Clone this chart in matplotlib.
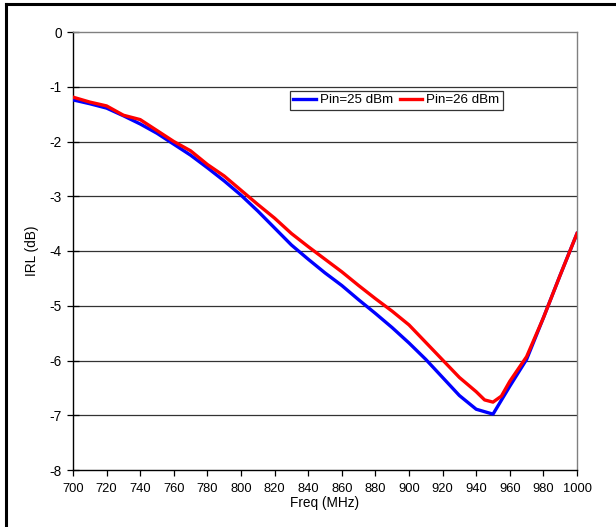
import numpy as np
import matplotlib
matplotlib.use('Agg')
import matplotlib.pyplot as plt
from matplotlib.lines import Line2D

#---------------- DADOS ----------------

freq25 = [700, 710, 720, 730, 740, 750, 760, 770, 780, 790, 800, 810, 820, 830, 840,
          850, 860, 870, 880, 890, 900, 910, 920, 930, 940, 950, 960, 970, 980, 990, 1000]
irl25 = [-1.24, -1.31, -1.39, -1.53, -1.68, -1.85, -2.05, -2.25, -2.48, -2.72, -2.98,
         -3.27, -3.58, -3.89, -4.15, -4.40, -4.63, -4.89, -5.14, -5.40, -5.68, -5.98,
         -6.31, -6.64, -6.89, -6.98, -6.47, -5.98, -5.22, -4.44, -3.68]

freq26 = [700, 710, 720, 730, 740, 750, 760, 770, 780, 790, 800, 810, 820, 830, 840,
          850, 860, 870, 880, 890, 900, 910, 920, 930, 940, 945, 950, 955, 960, 970,
          980, 990, 1000]
irl26 = [-1.19, -1.28, -1.35, -1.52, -1.60, -1.80, -2.00, -2.17, -2.42, -2.63, -2.89,
         -3.15, -3.40, -3.68, -3.92, -4.15, -4.38, -4.63, -4.87, -5.10, -5.35, -5.67,
         -5.99, -6.31, -6.57, -6.72, -6.76, -6.65, -6.38, -5.93, -5.22, -4.44, -3.68]

xticks = np.arange(700, 1001, 20)
yticks = np.arange(-8, 1, 1)

#---------------- GRAFICO ----------------

plt.rcParams['font.family'] = ['Liberation Sans', 'DejaVu Sans']

fig = plt.figure(figsize=(6.16, 5.27), dpi=100)
ax = fig.add_axes([73/616, 1 - 470/527, 504/616, 438/527])

for y in yticks[1:-1]:
    ax.axhline(y, color='#333333', lw=0.9, zorder=1)

ax.plot(freq25, irl25, color='#0000ff', lw=2.4, label='Pin=25 dBm', zorder=3)
ax.plot(freq26, irl26, color='#ff0000', lw=2.4, label='Pin=26 dBm', zorder=4)

ax.set_xlim(700, 1000)
ax.set_ylim(-8, 0)
ax.set_xticks(xticks)
ax.set_yticks(yticks)
ax.set_yticklabels([str(v) for v in yticks])
ax.tick_params(axis='x', direction='out', length=4, width=0.9, labelsize=9.3, pad=5)
ax.tick_params(axis='y', direction='inout', length=8, width=0.9, labelsize=9.8, pad=4)

for s in ['left', 'bottom']:
    ax.spines[s].set_color('black')
    ax.spines[s].set_linewidth(1.0)
for s in ['top', 'right']:
    ax.spines[s].set_color('#808080')
    ax.spines[s].set_linewidth(1.0)

ax.set_xlabel('Freq (MHz)', fontsize=9.8, labelpad=1)
ax.set_ylabel('IRL (dB)', fontsize=9.8, labelpad=8)

leg = ax.legend(loc='upper left', bbox_to_anchor=(0.43, 0.866), ncol=2,
                fontsize=9.6, frameon=True, fancybox=False, handlelength=1.7,
                handletextpad=0.3, columnspacing=0.5, borderpad=0.25,
                borderaxespad=0)
leg.get_frame().set_edgecolor('black')
leg.get_frame().set_linewidth(0.9)

# moldura externa (so esquerda e topo aparecem)
fig.add_artist(Line2D([6/616, 6/616], [0, 1 - 4/527], color='black', lw=2.2))
fig.add_artist(Line2D([6/616, 1], [1 - 4/527, 1 - 4/527], color='black', lw=2.2))

fig.savefig('out.png', dpi=100)
